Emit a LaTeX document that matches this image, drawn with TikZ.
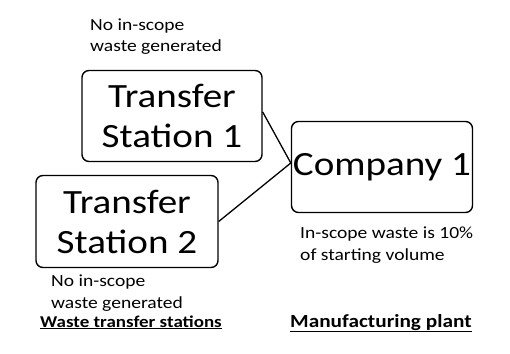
\documentclass[tikz,border=0pt]{standalone}
\usepackage{fontspec}
\setmainfont{Carlito}[FakeStretch=1.15]
\usetikzlibrary{calc}
\begin{document}
\begin{tikzpicture}[x=1pt,y=1pt,
  box/.style={draw=black, line width=1.4pt, rounded corners=7pt,
    align=center, inner sep=0pt, font=\fontsize{34}{40}\selectfont},
  note/.style={align=left, inner sep=0pt, anchor=base west,
    font=\fontsize{17}{21.5}\selectfont},
  heading/.style={inner sep=0pt, anchor=base west, font=\bfseries},
  link/.style={line width=1.3pt}]
\useasboundingbox (0,0) rectangle (510,353);

% stations and plant
\node[box, minimum width=180pt, minimum height=91pt] (ts1) at (172,237)
  {Transfer\\Station 1};
\node[box, minimum width=181pt, minimum height=91pt] (co) at (382,186)
  {Company 1};
\node[box, minimum width=182pt, minimum height=92pt] (ts2) at (127,131.5)
  {Transfer\\Station 2};

% links into the plant
\coordinate (join) at ($(co.west)+(0,4)$);
\coordinate (out1) at ($(ts1.east)+(0,4)$);
\coordinate (out2) at (ts2.east);
\draw[link] (out1) -- (join);
\draw[link] (out2) -- (join);

% notes (anchored on the baseline of their last line)
\node[note] (n1) at (90,301) {No in-scope\\waste generated};
\node[note] (n2) at (51,45) {No in-scope\\waste generated};
\node[note] (n3) at (300,93) {In-scope waste is 10\%\\of starting volume};

% headings
\node[heading] (h1) at (40,26)
  {\fontsize{16.5}{20}\selectfont\underline{Waste transfer stations}};
\node[heading] (h2) at (290,26)
  {\fontsize{18.5}{22}\selectfont\underline{Manufacturing plant}};
\end{tikzpicture}
\end{document}
